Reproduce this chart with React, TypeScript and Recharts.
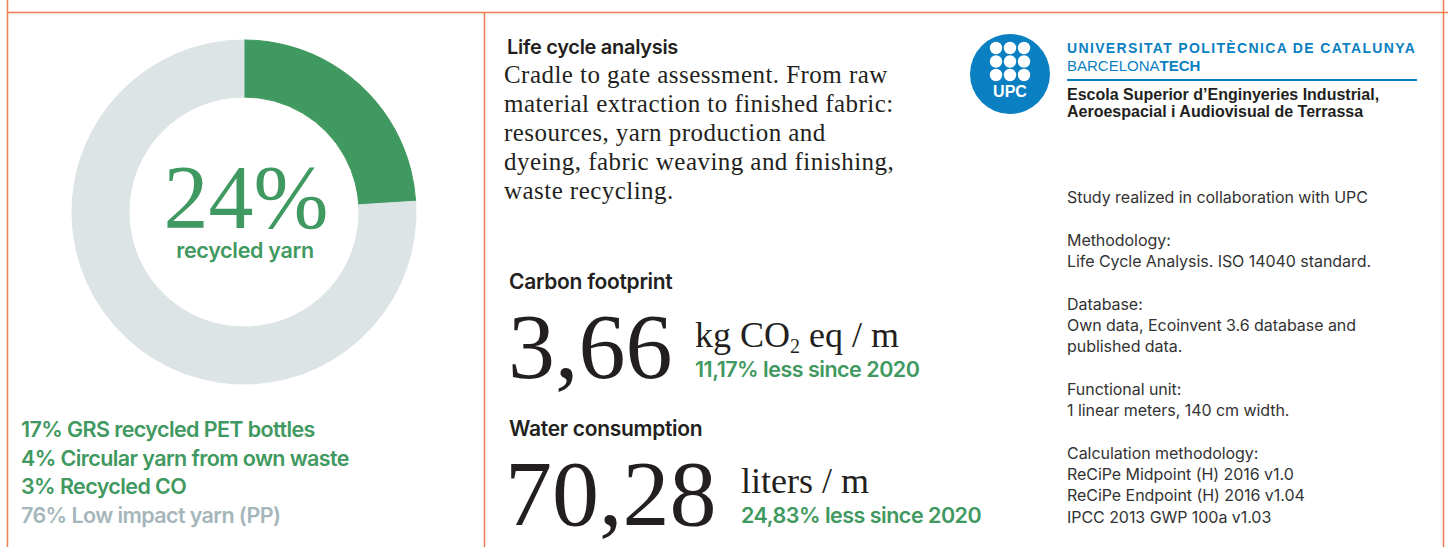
import React from "react"
import { PieChart, Pie, Cell } from "recharts"

// yarn composition (share of total, %)
const yarnLabels = [
  "GRS recycled PET bottles",
  "Circular yarn from own waste",
  "Recycled CO",
  "Low impact yarn (PP)",
]
const yarnShares = [17, 4, 3, 76]
const yarnRecycled = [true, true, true, false]

// life cycle metrics
const metricTitles = ["Carbon footprint", "Water consumption"]
const metricValues = ["3,66", "70,28"]
const metricChanges = ["11,17% less since 2020", "24,83% less since 2020"]

const lcaTitle = "Life cycle analysis"
const lcaText = [
  "Cradle to gate assessment. From raw",
  "material extraction to finished fabric:",
  "resources, yarn production and",
  "dyeing, fabric weaving and finishing,",
  "waste recycling.",
]

const studyLines = [
  "Study realized in collaboration with UPC",
  "",
  "Methodology:",
  "Life Cycle Analysis. ISO 14040 standard.",
  "",
  "Database:",
  "Own data, Ecoinvent 3.6 database and",
  "published data.",
  "",
  "Functional unit:",
  "1 linear meters, 140 cm width.",
  "",
  "Calculation methodology:",
  "ReCiPe Midpoint (H) 2016 v1.0",
  "ReCiPe Endpoint (H) 2016 v1.04",
  "IPCC 2013 GWP 100a v1.03",
]

const GREEN = "#3f9960"
const RING = "#dce4e6"
const GREY_TEXT = "#a5b6bb"
const ORANGE = "#ec7d4e"
const BLUE = "#0a7fc2"
const INK = "#231f20"

const SANS = "Inter, 'Noto Sans', sans-serif"
const SERIF = "'Liberation Serif', 'DejaVu Serif', serif"
const ARIAL = "'Liberation Sans', Arial, sans-serif"

const W = 1448
const H = 547

export default function App() {
  const pieData = yarnLabels.map((name, i) => ({
    name,
    value: yarnShares[i],
    recycled: yarnRecycled[i],
  }))
  const recycledTotal = pieData.filter((d) => d.recycled).reduce((s, d) => s + d.value, 0)

  return (
    <div style={{ position: "absolute", left: 0, top: 0, width: W, height: H, background: "#fff" }}>
      <PieChart
        width={W}
        height={H}
        margin={{ top: 0, right: 0, bottom: 0, left: 0 }}
        style={{ position: "absolute", left: 0, top: 0 }}
      >
        <Pie
          data={pieData}
          dataKey="value"
          cx={244}
          cy={212}
          innerRadius={115}
          outerRadius={172}
          startAngle={90}
          endAngle={-270}
          isAnimationActive={false}
        >
          {pieData.map((d) => (
            <Cell
              key={d.name}
              fill={d.recycled ? GREEN : RING}
              stroke={d.recycled ? GREEN : RING}
              strokeWidth={1}
            />
          ))}
        </Pie>
      </PieChart>

      <svg
        width={W}
        height={H}
        style={{ position: "absolute", left: 0, top: 0, pointerEvents: "none" }}
      >
        {/* frame */}
        <line x1={7} y1={12.5} x2={W} y2={12.5} stroke={ORANGE} strokeWidth={1.5} />
        <line x1={7.5} y1={0} x2={7.5} y2={H} stroke={ORANGE} strokeWidth={1.5} />
        <line x1={484.5} y1={12} x2={484.5} y2={H} stroke={ORANGE} strokeWidth={1.5} />
        <line x1={1443.5} y1={0} x2={1443.5} y2={H} stroke={ORANGE} strokeWidth={1.5} />

        {/* donut centre */}
        <text x={246} y={228} textAnchor="middle" fill={GREEN} fontFamily={SERIF} fontSize={90}>
          {recycledTotal}%
        </text>
        <text
          x={245}
          y={258}
          textAnchor="middle"
          fill={GREEN}
          fontFamily={SANS}
          fontWeight={600}
          fontSize={21.5}
          letterSpacing={-0.3}
        >
          recycled yarn
        </text>

        {/* legend */}
        {pieData.map((d, i) => (
          <text
            key={d.name}
            x={21}
            y={437 + i * 28.5}
            fill={d.recycled ? GREEN : GREY_TEXT}
            fontFamily={SANS}
            fontWeight={600}
            fontSize={21.5}
            letterSpacing={-0.6}
          >
            {d.value}% {d.name}
          </text>
        ))}

        {/* life cycle analysis */}
        <text x={507} y={54} fill={INK} fontFamily={SANS} fontWeight={600} fontSize={20} letterSpacing={-0.3}>
          {lcaTitle}
        </text>
        {lcaText.map((t, i) => (
          <text key={i} x={504} y={83 + i * 29} fill={INK} fontFamily={SERIF} fontSize={25} letterSpacing={0.45}>
            {t}
          </text>
        ))}

        {/* carbon footprint */}
        <text x={509} y={289} fill={INK} fontFamily={SANS} fontWeight={600} fontSize={21} letterSpacing={-0.3}>
          {metricTitles[0]}
        </text>
        <text x={508} y={378} fill={INK} fontFamily={SERIF} fontSize={94}>
          {metricValues[0]}
        </text>
        <text x={695} y={347} fill={INK} fontFamily={SERIF} fontSize={36}>
          kg CO
          <tspan fontSize={20} dy={6}>
            2
          </tspan>
          <tspan dy={-6}> eq / m</tspan>
        </text>
        <text x={695} y={377} fill={GREEN} fontFamily={SANS} fontWeight={600} fontSize={21.5} letterSpacing={-0.5}>
          {metricChanges[0]}
        </text>

        {/* water consumption */}
        <text x={509} y={436} fill={INK} fontFamily={SANS} fontWeight={600} fontSize={21} letterSpacing={-0.3}>
          {metricTitles[1]}
        </text>
        <text x={505} y={525} fill={INK} fontFamily={SERIF} fontSize={94}>
          {metricValues[1]}
        </text>
        <text x={741} y={493} fill={INK} fontFamily={SERIF} fontSize={36}>
          liters / m
        </text>
        <text x={741} y={523} fill={GREEN} fontFamily={SANS} fontWeight={600} fontSize={21.5} letterSpacing={-0.5}>
          {metricChanges[1]}
        </text>

        {/* UPC logo */}
        <circle cx={1010} cy={74} r={40} fill={BLUE} />
        {[0, 1, 2].map((r) =>
          [0, 1, 2].map((c) => (
            <circle key={`${r}-${c}`} cx={996 + c * 14} cy={48 + r * 13.5} r={6.2} fill="#fff" />
          ))
        )}
        <text x={1010} y={97} textAnchor="middle" fill="#fff" fontFamily={ARIAL} fontWeight={700} fontSize={16}>
          UPC
        </text>
        <text x={1067} y={53} fill={BLUE} fontFamily={ARIAL} fontWeight={700} fontSize={14} letterSpacing={1.35}>
          UNIVERSITAT POLITÈCNICA DE CATALUNYA
        </text>
        <text x={1067} y={71} fill={BLUE} fontFamily={ARIAL} fontSize={15}>
          BARCELONA<tspan fontWeight={700}>TECH</tspan>
        </text>
        <line x1={1067} y1={80} x2={1417} y2={80} stroke={BLUE} strokeWidth={2} />
        <text x={1067} y={100} fill={INK} fontFamily={ARIAL} fontWeight={700} fontSize={16}>
          Escola Superior d’Enginyeries Industrial,
        </text>
        <text x={1067} y={117} fill={INK} fontFamily={ARIAL} fontWeight={700} fontSize={16}>
          Aeroespacial i Audiovisual de Terrassa
        </text>

        {/* study notes */}
        {studyLines.map((t, i) =>
          t ? (
            <text key={i} x={1067} y={203 + i * 21.3} fill="#333" fontFamily={SANS} fontSize={16} letterSpacing={-0.05}>
              {t}
            </text>
          ) : null
        )}
      </svg>
    </div>
  )
}
